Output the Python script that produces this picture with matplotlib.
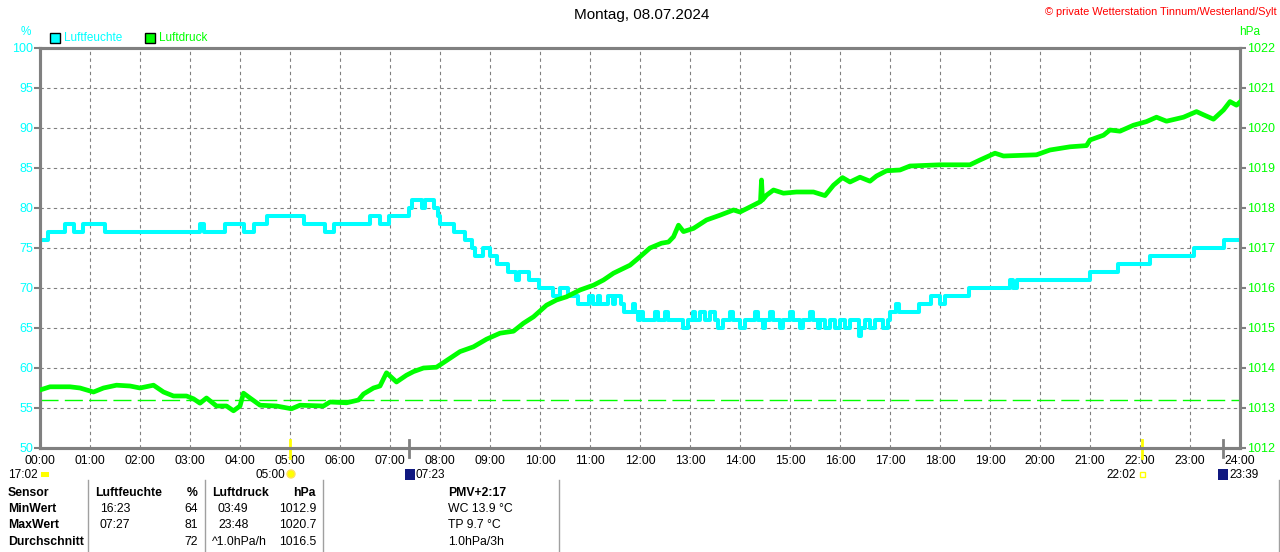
import numpy as np
import matplotlib.pyplot as plt
from matplotlib.patches import Rectangle, Ellipse
import matplotlib.transforms as mtransforms

plt.rcParams['font.family'] = ['Liberation Sans', 'DejaVu Sans']

# humidity (%) as steps: time in hours, value
hum_t = [0.0, 0.16, 0.5, 0.67, 0.85, 1.3, 3.2, 3.28, 3.7, 4.07, 4.28, 4.53, 5.27, 5.7, 5.87,
         6.6, 6.8, 6.97, 7.37, 7.43, 7.63, 7.7, 7.87, 7.95, 8.0, 8.27, 8.5, 8.63, 8.7, 8.85,
         9.0, 9.13, 9.35, 9.52, 9.58, 9.78, 9.97, 10.25, 10.4, 10.55, 10.75, 10.97, 11.05,
         11.15, 11.2, 11.35, 11.45, 11.5, 11.62, 11.67, 11.85, 11.9, 11.95, 12.0, 12.05,
         12.3, 12.35, 12.5, 12.55, 12.85, 12.95, 13.05, 13.1, 13.2, 13.3, 13.4, 13.5, 13.55,
         13.65, 13.8, 13.85, 14.0, 14.1, 14.3, 14.35, 14.45, 14.5, 14.6, 14.65, 14.8, 14.85,
         15.0, 15.05, 15.2, 15.25, 15.4, 15.45, 15.55, 15.6, 15.7, 15.8, 15.9, 16.0, 16.1,
         16.2, 16.38, 16.42, 16.5, 16.6, 16.7, 16.85, 16.95, 17.0, 17.12, 17.18, 17.57,
         17.83, 18.0, 18.1, 18.57, 19.4, 19.45, 19.53, 21.0, 21.55, 22.2, 23.07, 23.67, 24.0]
hum_v = [76, 77, 78, 77, 78, 77, 78, 77, 78, 77, 78, 79, 78, 77, 78,
         79, 78, 79, 80, 81, 80, 81, 80, 79, 78, 77, 76, 75, 74, 75,
         74, 73, 72, 71, 72, 71, 70, 69, 70, 69, 68, 69, 68,
         69, 68, 69, 68, 69, 68, 67, 68, 67, 66, 67, 66,
         67, 66, 67, 66, 65, 66, 67, 66, 67, 66, 67, 66, 65,
         66, 67, 66, 65, 66, 67, 66, 65, 66, 67, 66, 65, 66,
         67, 66, 65, 66, 67, 66, 65, 66, 65, 66, 65, 66, 65,
         66, 64, 65, 66, 65, 66, 65, 66, 67, 68, 67, 68,
         69, 68, 69, 70, 71, 70, 71, 72, 73, 74, 75, 76, 76]

# air pressure (hPa)
pres_t = [0.0, 0.2, 0.6, 0.8, 1.07, 1.27, 1.53, 1.8, 2.0, 2.27, 2.47, 2.67, 2.93, 3.07, 3.2,
          3.33, 3.53, 3.73, 3.87, 4.0, 4.07, 4.2, 4.4, 4.73, 5.03, 5.2, 5.67, 5.8, 6.13,
          6.37, 6.47, 6.67, 6.8, 6.93, 7.13, 7.33, 7.47, 7.67, 7.93, 8.1, 8.4, 8.67, 8.93,
          9.2, 9.47, 9.67, 9.87, 10.13, 10.33, 10.53, 10.8, 11.07, 11.27, 11.47, 11.8, 12.0,
          12.2, 12.43, 12.57, 12.67, 12.77, 12.87, 13.07, 13.33, 13.6, 13.87, 14.0, 14.27,
          14.41, 14.43, 14.45, 14.53, 14.67, 14.87, 15.13, 15.47, 15.7, 15.87, 16.05, 16.2,
          16.4, 16.6, 16.73, 16.93, 17.2, 17.4, 18.0, 18.6, 18.8, 19.1, 19.27, 19.93, 20.2,
          20.6, 20.93, 21.0, 21.27, 21.4, 21.6, 21.87, 22.13, 22.33, 22.53, 22.87, 23.13,
          23.27, 23.47, 23.67, 23.8, 23.93, 24.0]
pres_v = [1013.45, 1013.53, 1013.53, 1013.5, 1013.4, 1013.5, 1013.57, 1013.55, 1013.5, 1013.57,
          1013.4, 1013.3, 1013.3, 1013.23, 1013.12, 1013.25, 1013.05, 1013.05, 1012.93, 1013.05,
          1013.37, 1013.25, 1013.07, 1013.05, 1012.98, 1013.07, 1013.05, 1013.15, 1013.13,
          1013.2, 1013.35, 1013.5, 1013.55, 1013.88, 1013.65, 1013.82, 1013.91, 1014.0, 1014.02,
          1014.16, 1014.41, 1014.53, 1014.72, 1014.87, 1014.92, 1015.12, 1015.28, 1015.57,
          1015.7, 1015.78, 1015.95, 1016.07, 1016.2, 1016.37, 1016.57, 1016.78, 1017.0,
          1017.12, 1017.15, 1017.28, 1017.57, 1017.41, 1017.49, 1017.7, 1017.82, 1017.95,
          1017.9, 1018.07, 1018.16, 1018.7, 1018.2, 1018.32, 1018.45, 1018.37, 1018.4, 1018.4,
          1018.31, 1018.57, 1018.76, 1018.65, 1018.77, 1018.67, 1018.8, 1018.93, 1018.95,
          1019.05, 1019.08, 1019.08, 1019.2, 1019.37, 1019.3, 1019.33, 1019.45, 1019.53,
          1019.56, 1019.7, 1019.82, 1019.95, 1019.92, 1020.07, 1020.16, 1020.27, 1020.17,
          1020.27, 1020.41, 1020.33, 1020.22, 1020.45, 1020.66, 1020.57, 1020.65]
pres_ref = 1013.2

hours = list(range(25))
hour_labels = [f"{h:02d}:00" for h in hours]
hum_ticks = [50, 55, 60, 65, 70, 75, 80, 85, 90, 95, 100]
pres_ticks = [1012, 1013, 1014, 1015, 1016, 1017, 1018, 1019, 1020, 1021, 1022]

sun_times = [5.0, 22.033]
moon_times = [7.383, 23.65]

table_head = ["Sensor", "Luftfeuchte", "%", "Luftdruck", "hPa", "PMV+2:17"]
row_names = ["MinWert", "MaxWert", "Durchschnitt"]
hum_when = ["16:23", "07:27", ""]
hum_vals = ["64", "81", "72"]
pres_when = ["03:49", "23:48", "^1.0hPa/h"]
pres_vals = ["1012.9", "1020.7", "1016.5"]
extra = ["WC 13.9 °C", "TP 9.7 °C", "1.0hPa/3h"]

CYAN = '#00FFFF'
GREEN = '#00FF00'
GRAY = '#808080'
W, H = 1280, 552

fig = plt.figure(figsize=(12.8, 5.52), dpi=100)
ax = fig.add_axes([40 / W, 1 - 448 / H, 1200 / W, 400 / H])
ax2 = ax.twinx()


def ft(x, y, s, **kw):
    # text placed in figure pixel coords (y from top)
    kw.setdefault('fontsize', 8.8)
    kw.setdefault('va', 'center')
    fig.text(x / W, 1 - y / H, s, **kw)


def box(x, y, w, h, **kw):
    fig.patches.append(Rectangle((x / W, 1 - (y + h) / H), w / W, h / H, transform=fig.transFigure, **kw))


ax.step(hum_t, hum_v, where='post', color=CYAN, linewidth=2.9, zorder=3)
ax2.plot(pres_t, pres_v, color=GREEN, linewidth=3.4, zorder=3)
ax2.axhline(pres_ref, color=GREEN, linewidth=1, linestyle=(0, (13, 4.5)), zorder=2)

ax.set_xlim(0, 24)
ax.set_ylim(50, 100)
ax2.set_ylim(1012, 1022)
ax.set_xticks(hours)
ax.set_xticklabels(hour_labels)
ax.set_yticks(hum_ticks)
ax2.set_yticks(pres_ticks)
ax.grid(True, color=GRAY, linestyle=(0, (3, 3)), linewidth=0.8)
ax.set_axisbelow(True)

for a in (ax, ax2):
    for sp in a.spines.values():
        sp.set_color(GRAY)
        sp.set_linewidth(2.2)
ax.tick_params(axis='x', length=0, pad=5, labelsize=8.8, labelcolor='black')
ax.tick_params(axis='y', length=4, width=1.5, color=GRAY, labelcolor=CYAN, labelsize=9, pad=1)
ax2.tick_params(axis='y', length=4, width=1.5, color=GRAY, labelcolor=GREEN, labelsize=9, pad=1)

# sunrise / sunset and moon markers on the time axis
trans = mtransforms.blended_transform_factory(ax.transData, ax.transAxes)
for t in sun_times:
    ax.plot([t, t], [-0.025, 0.02], color='#FFFF00', linewidth=2, transform=trans, clip_on=False, zorder=5)
for t in moon_times:
    ax.plot([t, t], [-0.022, 0.02], color=GRAY, linewidth=2, transform=trans, clip_on=False, zorder=5)

# header texts
ft(642, 15, "Montag, 08.07.2024", fontsize=11, ha='center')
ft(1277, 12, "© private Wetterstation Tinnum/Westerland/Sylt", fontsize=7.9, ha='right', color='red')
ft(26, 32, "%", color=CYAN, ha='center', fontsize=8.5)
ft(1250, 32, "hPa", color=GREEN, ha='center', fontsize=8.5)
box(50, 33, 10, 10, facecolor=CYAN, edgecolor='black', linewidth=1)
ft(64, 38, "Luftfeuchte", color=CYAN, fontsize=8.5)
box(145, 33, 10, 10, facecolor=GREEN, edgecolor='black', linewidth=1)
ft(159, 38, "Luftdruck", color=GREEN, fontsize=8.5)

# event labels under the axis
ft(8, 475, "17:02", fontsize=8.5)
box(41, 472, 8, 5, facecolor='#FFFF00', edgecolor='none')
ft(285, 475, "05:00", ha='right', fontsize=8.5)
fig.patches.append(Ellipse((291 / W, 1 - 474 / H), 8 / W, 8 / H, facecolor='#FFFF00', edgecolor='#FFE060',
                           transform=fig.transFigure))
box(405, 469, 10, 11, facecolor='#101880', edgecolor='none')
ft(416, 475, "07:23", fontsize=8.5)
ft(1136, 475, "22:02", ha='right', fontsize=8.5)
box(1140, 472, 5, 5, facecolor='none', edgecolor='#FFFF00', linewidth=1)
box(1218, 469, 10, 11, facecolor='#101880', edgecolor='none')
ft(1229, 475, "23:39", fontsize=8.5)

# statistics table
for xl in (88, 205, 323, 559, 1279):
    fig.add_artist(plt.Line2D([xl / W, xl / W], [1 - 480 / H, 0], color='#A0A0A0', linewidth=1))
row_y = [493, 509, 525, 542]
ft(8, row_y[0], table_head[0], fontweight='bold')
ft(95, row_y[0], table_head[1], fontweight='bold')
ft(198, row_y[0], table_head[2], fontweight='bold', ha='right')
ft(212, row_y[0], table_head[3], fontweight='bold')
ft(316, row_y[0], table_head[4], fontweight='bold', ha='right')
ft(448, row_y[0], table_head[5], fontweight='bold')
for i in range(3):
    y = row_y[i + 1]
    ft(8, y, row_names[i], fontweight='bold')
    ft(100, y, hum_when[i])
    ft(198, y, hum_vals[i], ha='right')
    ft(218 if i < 2 else 212, y, pres_when[i])
    ft(316, y, pres_vals[i], ha='right')
    ft(448, y, extra[i])

fig.savefig('out.png', dpi=100)
